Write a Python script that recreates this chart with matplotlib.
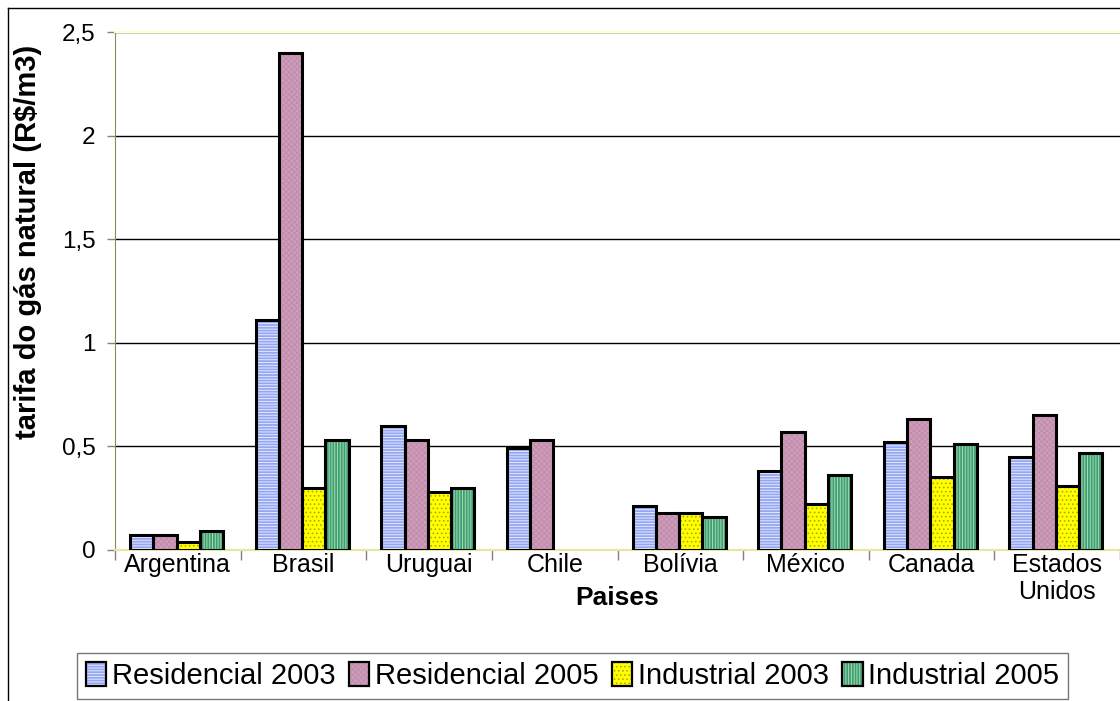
import numpy as np
import matplotlib
matplotlib.use("Agg")
import matplotlib.pyplot as plt
from matplotlib.patches import Patch
from matplotlib.lines import Line2D
from matplotlib.legend_handler import HandlerTuple

plt.rcParams['font.family'] = ['Liberation Sans', 'DejaVu Sans']
plt.rcParams['hatch.linewidth'] = 0.7

# Data: natural gas tariffs (R$/m3) by country
paises = ["Argentina", "Brasil", "Uruguai", "Chile", "Bolívia", "México", "Canada", "Estados\nUnidos"]
residencial_2003 = [0.07, 1.11, 0.60, 0.49, 0.21, 0.38, 0.52, 0.45]
residencial_2005 = [0.07, 2.40, 0.53, 0.53, 0.18, 0.57, 0.63, 0.65]
industrial_2003 = [0.04, 0.30, 0.28, np.nan, 0.18, 0.22, 0.35, 0.31]
industrial_2005 = [0.09, 0.53, 0.30, np.nan, 0.16, 0.36, 0.51, 0.47]
series_labels = ["Residencial 2003", "Residencial 2005", "Industrial 2003", "Industrial 2005"]
yticks = [0, 0.5, 1, 1.5, 2, 2.5]
ytick_labels = ["0", "0,5", "1", "1,5", "2", "2,5"]

series = [residencial_2003, residencial_2005, industrial_2003, industrial_2005]
# (face colour, hatch colour, hatch pattern) per series
styles = [
    ("#95a6f2", "#e4eaff", "------"),
    ("#cf9cba", "#bf8dab", "xxxxxx"),
    ("#ffff00", "#b4aa00", "...."),
    ("#3f9f70", "#a4dcb6", "||||||"),
]

fig = plt.figure(figsize=(11.2, 7.01), dpi=100)
W, H = 1120, 701
ax = fig.add_axes([115 / W, 1 - 550 / H, 1005 / W, 518 / H])

x = np.arange(len(paises)) + 0.5
bw = 0.185
handles = []
for k, (vals, (fc, hc, hp)) in enumerate(zip(series, styles)):
    pos = x + (k - 1.5) * bw - 0.01
    ax.bar(pos, vals, bw, color=fc, edgecolor=hc, hatch=hp, linewidth=0, zorder=3)
    ax.bar(pos, vals, bw, facecolor="none", edgecolor="black", linewidth=2.2, zorder=4)
    handles.append((Patch(facecolor=fc, edgecolor=hc, hatch=hp, linewidth=0),
                    Patch(facecolor="none", edgecolor="black", linewidth=1.6)))

ax.set_xlim(0, len(paises))
ax.set_ylim(0, 2.5)

ax.set_yticks(yticks)
ax.set_yticklabels(ytick_labels, fontsize=17.5)
ax.yaxis.grid(True, color="black", linewidth=1.0, zorder=1)
ax.tick_params(axis="y", direction="out", length=6, width=1, color="#808080", pad=8)

ax.set_xticks(x)
ax.set_xticklabels(paises, fontsize=18, linespacing=1.15)
ax.set_xticks(np.arange(len(paises) + 1), minor=True)
ax.tick_params(axis="x", which="major", length=0, pad=2)
ax.tick_params(axis="x", which="minor", direction="out", length=7, width=1, color="#808080")

ax.spines["right"].set_visible(False)
ax.spines["top"].set_color("#ffffc8")
ax.spines["top"].set_linewidth(1.5)
ax.spines["left"].set_color("#8c8c50")
ax.spines["bottom"].set_color("#e6e6a0")
ax.spines["bottom"].set_linewidth(1.5)
ax.set_axisbelow(True)

fig.text(28 / W, 1 - 242 / H, "tarifa do gás natural (R$/m3)", rotation=90,
         ha="center", va="center", fontsize=21, fontweight="bold")
fig.text(617 / W, 1 - 598 / H, "Paises", ha="center", va="center",
         fontsize=19, fontweight="bold")

# chart area border
fig.add_artist(Line2D([8 / W, 8 / W], [0, 1 - 8 / H], color="black", linewidth=1,
                      transform=fig.transFigure))
fig.add_artist(Line2D([8 / W, 1], [1 - 8 / H, 1 - 8 / H], color="black", linewidth=1,
                      transform=fig.transFigure))

leg = fig.legend(handles, series_labels, handler_map={tuple: HandlerTuple(ndivide=1)},
                 loc="upper left", bbox_to_anchor=(77 / W, 1 - 653 / H), ncol=4,
                 fontsize=21, frameon=True, fancybox=False, edgecolor="#555555",
                 handlelength=0.7, handleheight=0.9, handletextpad=0.2,
                 columnspacing=0.45, borderpad=0.3, borderaxespad=0)
leg.get_frame().set_linewidth(1.0)

fig.savefig("out.png", dpi=100)
